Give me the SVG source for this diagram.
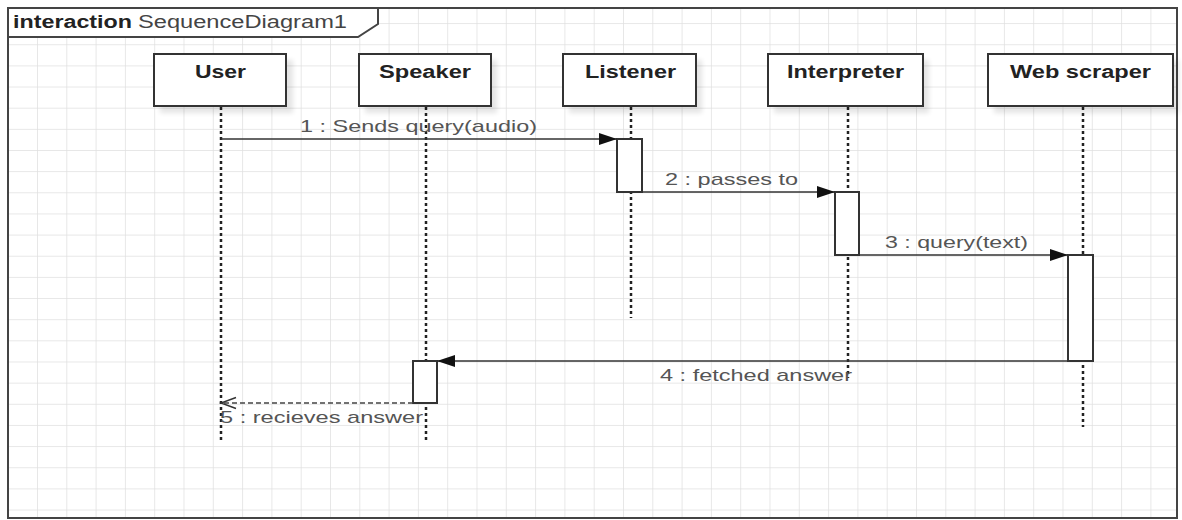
<svg xmlns="http://www.w3.org/2000/svg" width="1182" height="520" viewBox="0 0 1182 520">
  <defs>
    <pattern id="grid" patternUnits="userSpaceOnUse" x="37" y="150" width="29.3" height="21.15">
      <path d="M0,0 L29.3,0 M0,0 L0,21.15" fill="none" stroke="#e0e0e0" stroke-width="1.5"/>
    </pattern>
    <filter id="shadow" x="-20%" y="-20%" width="150%" height="160%">
      <feGaussianBlur stdDeviation="2.5"/>
    </filter>
    <marker id="filled" markerUnits="userSpaceOnUse" markerWidth="18" markerHeight="12" refX="18" refY="6" orient="auto">
      <path d="M0,0 L18,6 L0,12 z" fill="#111"/>
    </marker>
    <marker id="open" markerUnits="userSpaceOnUse" markerWidth="18" markerHeight="14" refX="16" refY="7" orient="auto">
      <path d="M1,1.5 L16,7 L1,12.5" fill="none" stroke="#333" stroke-width="1.5"/>
    </marker>
  </defs>
  <style>
    .frame { fill: none; stroke: #444; stroke-width: 2; }
    .box { fill: #fff; stroke: #333; stroke-width: 2; }
    .shadow { fill: #000; opacity: 0.10; filter: url(#shadow); }
    .lbl { font-family: "Liberation Sans", Arial, sans-serif; font-size: 17.5px; font-weight: bold; fill: #222; }
    .msg { font-family: "Liberation Sans", Arial, sans-serif; font-size: 17px; fill: #555; }
    .life { stroke: #222; stroke-width: 2.5; stroke-dasharray: 3 3; fill: none; }
    .act { fill: #fff; stroke: #333; stroke-width: 2; }
    .call { stroke: #333; stroke-width: 1.6; fill: none; marker-end: url(#filled); }
    .ret { stroke: #444; stroke-width: 1.4; stroke-dasharray: 5 3; fill: none; marker-end: url(#open); }
  </style>

  <rect x="0" y="0" width="1182" height="520" fill="#fff"/>
  <rect x="8" y="8" width="1169" height="510" fill="url(#grid)"/>

  <g id="frame">
    <path d="M8,37 L358,37 L378,24 L378,8 L8,8 z" fill="#fff"/>
    <rect class="frame" x="8" y="8" width="1169" height="510"/>
    <path class="frame" d="M8,37 L358,37 L378,24 L378,8"/>
    <text x="13" y="28" font-family="Liberation Sans, Arial, sans-serif" font-size="17.5px" font-weight="bold" fill="#222" textLength="119" lengthAdjust="spacingAndGlyphs">interaction</text>
    <text x="138" y="28" font-family="Liberation Sans, Arial, sans-serif" font-size="17.5px" fill="#444" textLength="209" lengthAdjust="spacingAndGlyphs">SequenceDiagram1</text>
  </g>

  <g id="lifelines">
    <line class="life" x1="221" y1="107" x2="221" y2="442"/>
    <line class="life" x1="426" y1="107" x2="426" y2="442"/>
    <line class="life" x1="631" y1="107" x2="631" y2="318"/>
    <line class="life" x1="848" y1="107" x2="848" y2="378"/>
    <line class="life" x1="1083" y1="107" x2="1083" y2="427"/>
  </g>

  <g id="user">
    <rect class="shadow" x="160" y="60" width="133" height="53"/>
    <rect class="box" x="154" y="54" width="132" height="52"/>
    <text class="lbl" x="195" y="78" textLength="51" lengthAdjust="spacingAndGlyphs">User</text>
  </g>
  <g id="speaker">
    <rect class="shadow" x="365" y="60" width="132" height="53"/>
    <rect class="box" x="359" y="54" width="132" height="52"/>
    <text class="lbl" x="379" y="78" textLength="92" lengthAdjust="spacingAndGlyphs">Speaker</text>
  </g>
  <g id="listener">
    <rect class="shadow" x="569" y="60" width="133" height="53"/>
    <rect class="box" x="563" y="54" width="133" height="52"/>
    <text class="lbl" x="585" y="78" textLength="91" lengthAdjust="spacingAndGlyphs">Listener</text>
  </g>
  <g id="interpreter">
    <rect class="shadow" x="774" y="60" width="155" height="53"/>
    <rect class="box" x="768" y="54" width="155" height="52"/>
    <text class="lbl" x="787" y="78" textLength="117" lengthAdjust="spacingAndGlyphs">Interpreter</text>
  </g>
  <g id="webscraper">
    <rect class="shadow" x="994" y="60" width="185" height="53"/>
    <rect class="box" x="988" y="54" width="185" height="52"/>
    <text class="lbl" x="1010" y="78" textLength="141" lengthAdjust="spacingAndGlyphs">Web scraper</text>
  </g>

  <g id="activations">
    <rect class="act" x="617" y="139" width="25" height="53"/>
    <rect class="act" x="835" y="192" width="24" height="63"/>
    <rect class="act" x="1068" y="255" width="25" height="106"/>
    <rect class="act" x="413" y="361" width="24" height="42"/>
  </g>

  <g id="connectors">
    <line class="call" x1="221" y1="139" x2="617" y2="139"/>
    <text class="msg" x="300" y="132" textLength="237" lengthAdjust="spacingAndGlyphs">1 : Sends query(audio)</text>
    <line class="call" x1="642" y1="192" x2="835" y2="192"/>
    <text class="msg" x="665" y="185" textLength="133" lengthAdjust="spacingAndGlyphs">2 : passes to</text>
    <line class="call" x1="859" y1="255" x2="1068" y2="255"/>
    <text class="msg" x="885" y="248" textLength="143" lengthAdjust="spacingAndGlyphs">3 : query(text)</text>
    <line class="call" x1="1068" y1="361" x2="437" y2="361"/>
    <text class="msg" x="660" y="381" textLength="192" lengthAdjust="spacingAndGlyphs">4 : fetched answer</text>
    <line class="ret" x1="413" y1="403" x2="221" y2="403"/>
    <text class="msg" x="220" y="423" textLength="203" lengthAdjust="spacingAndGlyphs">5 : recieves answer</text>
  </g>
</svg>
